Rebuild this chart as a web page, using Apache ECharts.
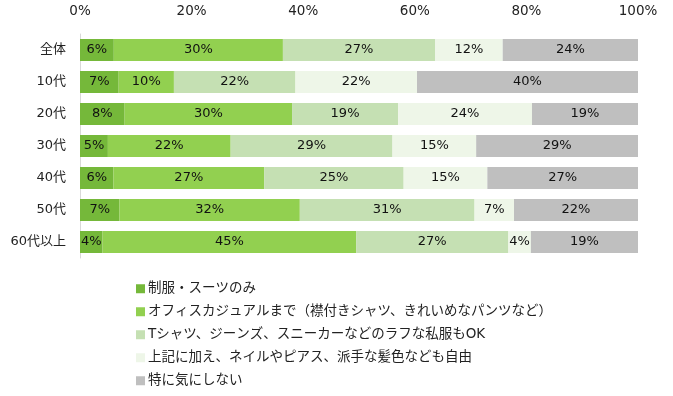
<!DOCTYPE html>
<html><head><meta charset="utf-8">
<script src="https://cdn.jsdelivr.net/npm/echarts@6/dist/echarts.min.js"></script>
<style>html,body{margin:0;padding:0;background:#fff}#c{width:673px;height:396px}</style>
</head><body><div id="c"></div>
<script>
const categories = ['全体','10代','20代','30代','40代','50代','60代以上'];
const seriesNames = ['制服・スーツのみ','オフィスカジュアルまで（襟付きシャツ、きれいめなパンツなど）','Tシャツ、ジーンズ、スニーカーなどのラフな私服もOK','上記に加え、ネイルやピアス、派手な髪色なども自由','特に気にしない'];
const s1 = [6, 7, 8, 5, 6, 7, 4];
const s2 = [30, 10, 30, 22, 27, 32, 45];
const s3 = [27, 22, 19, 29, 25, 31, 27];
const s4 = [12, 22, 24, 15, 15, 7, 4];
const s5 = [24, 40, 19, 29, 27, 22, 19];
const tickLabels = ['0%','20%','40%','60%','80%','100%'];
const colors = ['#75B83A','#92D050','#C5E0B3','#EEF6E8','#BFBFBF'];

const all = [s1,s2,s3,s4,s5];
const sums = categories.map((_,i)=>all.reduce((a,s)=>a+s[i],0));
const font = '"DejaVu Sans","Noto Sans CJK JP",sans-serif';
const chart = echarts.init(document.getElementById('c'));
chart.setOption({
  animation:false,
  textStyle:{fontFamily:font},
  grid:{left:80,right:35,top:34,height:224},
  xAxis:{type:'value',position:'top',min:0,max:100,interval:20,
    axisLine:{show:false},axisTick:{show:false},splitLine:{show:false},
    axisLabel:{formatter:v=>tickLabels[v/20],color:'#222',fontSize:13.5,fontFamily:font,margin:16}},
  yAxis:{type:'category',inverse:true,data:categories,
    axisLine:{show:true,lineStyle:{color:'#D9D9D9'}},axisTick:{show:false},
    axisLabel:{color:'#222',fontSize:13,fontFamily:font,margin:14}},
  legend:{orient:'vertical',left:131,top:277,height:119,itemWidth:9,itemHeight:9,itemGap:9.5,
    icon:'rect',textStyle:{fontSize:13.5,color:'#222',fontFamily:font,padding:[0,0,0,-2]},
    data:seriesNames},
  series: all.map((s,k)=>({
    name:seriesNames[k],type:'bar',stack:'t',barWidth:22,
    itemStyle:{color:colors[k]},
    data:s.map((v,i)=>({value:v/sums[i]*100,raw:v})),
    label:{show:true,position:'inside',color:'#111',fontSize:13,fontFamily:font,
      formatter:p=>p.data.raw+'%'}
  }))
});
</script></body></html>
